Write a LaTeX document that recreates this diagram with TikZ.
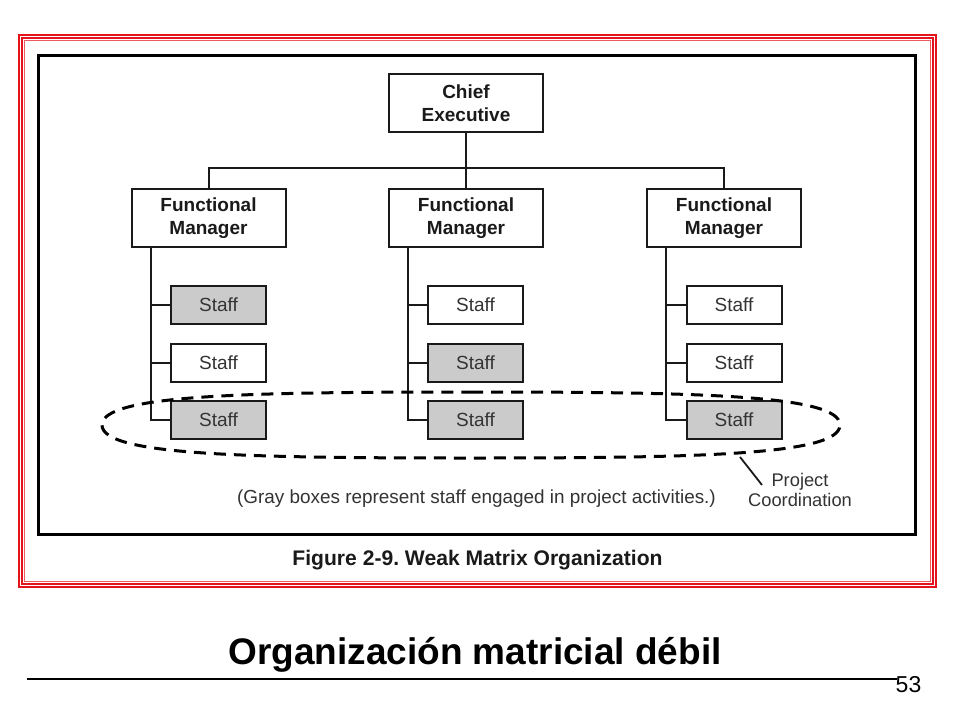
\documentclass[tikz,border=0pt]{standalone}
\usepackage{fontspec}
\setmainfont{Liberation Sans}
\frenchspacing
\definecolor{framered}{HTML}{E3141C}
\definecolor{framepink}{HTML}{EE5A5F}
\definecolor{boxgray}{HTML}{CBCBCB}
\definecolor{inkdark}{HTML}{1A1A1A}
\definecolor{inktext}{HTML}{333333}
\begin{document}
\begin{tikzpicture}[x=1pt,y=-1pt,
  mgrbox/.style={draw=inkdark,line width=2pt,fill=white,minimum width=154pt,minimum height=58pt,inner sep=0pt,align=center,
    font=\fontsize{19}{23}\selectfont\bfseries,text=inkdark},
  staffbox/.style={draw=inkdark,line width=2pt,fill=white,minimum width=95pt,minimum height=38pt,inner sep=0pt,
    font=\fontsize{19}{23}\selectfont,text=inktext},
  grayfill/.style={fill=boxgray},
  link/.style={draw=inkdark,line width=2pt},
  projline/.style={draw=black,line width=3pt,dash pattern=on 12pt off 8pt},
  notetext/.style={font=\fontsize{18.9}{22}\selectfont,text=inktext,inner sep=0pt},
]
\useasboundingbox (0,0) rectangle (960,720);
\fill[white] (0,0) rectangle (960,720);
% red frame
\draw[framered,line width=2pt] (19,35) rectangle (936,587);
\draw[framered,line width=1.6pt] (21.9,37.9) rectangle (933.1,584.1);
\draw[framepink,line width=1.2pt] (24.6,40.6) rectangle (930.4,581.4);
% black frame
\draw[black,line width=3pt] (38.5,55) rectangle (915.5,534);

% nodes
\node[mgrbox] (ce) at (466,103) {Chief\\Executive};
\node[mgrbox] (fm1) at (208.5,218) {Functional\\Manager};
\node[mgrbox] (fm2) at (466,218) {Functional\\Manager};
\node[mgrbox] (fm3) at (724,218) {Functional\\Manager};

\node[staffbox,grayfill] (s11) at (218.5,305) {Staff};
\node[staffbox] (s12) at (218.5,362.5) {Staff};
\node[staffbox,grayfill] (s13) at (218.5,419.5) {Staff};
\node[staffbox] (s21) at (475.5,305) {Staff};
\node[staffbox,grayfill] (s22) at (475.5,362.5) {Staff};
\node[staffbox,grayfill] (s23) at (475.5,419.5) {Staff};
\node[staffbox] (s31) at (734,305) {Staff};
\node[staffbox] (s32) at (734,362.5) {Staff};
\node[staffbox,grayfill] (s33) at (734,419.5) {Staff};

% connectors
\coordinate (hb) at (0,168);
\draw[link] (ce.south) -- (fm2.north);
\draw[link] (fm1.north) -- (fm1.north |- hb) -- (fm3.north |- hb) -- (fm3.north);
\coordinate (v1) at ([xshift=20pt]fm1.south west);
\coordinate (v2) at ([xshift=20pt]fm2.south west);
\coordinate (v3) at ([xshift=20pt]fm3.south west);
\draw[link] (v1) |- (s13.west);
\draw[link] (s11.west) -- (s11.west -| v1);
\draw[link] (s12.west) -- (s12.west -| v1);
\draw[link] (v2) |- (s23.west);
\draw[link] (s21.west) -- (s21.west -| v2);
\draw[link] (s22.west) -- (s22.west -| v2);
\draw[link] (v3) |- (s33.west);
\draw[link] (s31.west) -- (s31.west -| v3);
\draw[link] (s32.west) -- (s32.west -| v3);

% project coordination loop
\draw[projline] (471,392) .. controls (700,392) and (840,395) .. (840,425)
  .. controls (840,455) and (700,458) .. (471,458)
  .. controls (242,458) and (102,455) .. (102,425)
  .. controls (102,395) and (242,392) .. (471,392) -- cycle;

\node[notetext,align=center,font=\fontsize{18.3}{20}\selectfont] (pc) at (800,490) {Project\\Coordination};
\coordinate (pcstart) at (740,457);
\coordinate (pcend) at (762,485);
\draw[inkdark,line width=1.8pt] (pcstart) -- (pcend);

\node[notetext] (note) at (476.5,499) {(Gray boxes represent staff engaged in project activities.)};

\node[font=\fontsize{21.1}{24}\selectfont\bfseries,text=inkdark,inner sep=0pt] (cap) at (477.5,560) {Figure 2-9. Weak Matrix Organization};

% slide title
\node[font=\fontsize{37}{42}\selectfont\bfseries,text=black,inner sep=0pt] (title) at (475,655) {Organización matricial débil};
\coordinate (ulA) at (27,679);
\coordinate (ulB) at (897,679);
\draw[black,line width=1.2pt] (ulA) -- (ulB);
\node[font=\fontsize{23}{26}\selectfont,text=black,inner sep=0pt] (pgno) at (908.5,685) {53};
\end{tikzpicture}
\end{document}
